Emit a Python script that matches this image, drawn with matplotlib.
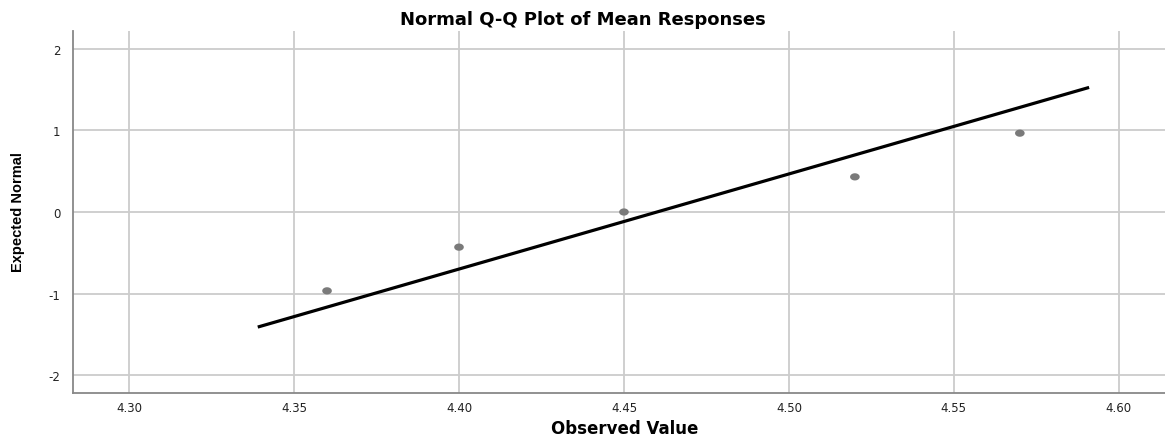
import numpy as np
import matplotlib
matplotlib.use('Agg')
import matplotlib.pyplot as plt
from matplotlib.path import Path

# observed means and their expected normal scores
observed = [4.36, 4.40, 4.45, 4.52, 4.57]
expected = [-0.967, -0.431, 0.0, 0.431, 0.967]
line_x = [4.339, 4.591]
x_ticks = [4.30, 4.35, 4.40, 4.45, 4.50, 4.55, 4.60]
y_ticks = [-2, -1, 0, 1, 2]

mean = np.mean(observed)
sd = np.std(observed, ddof=1)
line_y = [(x - mean) / sd for x in line_x]

plt.rcParams['font.family'] = ['DejaVu Sans']
plt.rcParams['axes.unicode_minus'] = False

fig = plt.figure(figsize=(11.65, 4.39), dpi=100)
ax = fig.add_axes([73 / 1165, 1 - 394 / 439, (1165 - 73) / 1165, (394 - 32) / 439])

ax.set_xlim(4.283, 4.614)
ax.set_ylim(-2.22, 2.22)
ax.set_xticks(x_ticks)
ax.set_xticklabels([f'{t:.2f}' for t in x_ticks])
ax.set_yticks(y_ticks)
ax.grid(True, color='#cccccc', linewidth=1.3)
ax.set_axisbelow(True)

ax.plot(line_x, line_y, color='black', linewidth=2.3, solid_capstyle='butt', zorder=3)

# slightly flattened dot, like the SPSS output
t = np.linspace(0, 2 * np.pi, 40)
ellipse = Path(np.column_stack([np.cos(t), 0.75 * np.sin(t)]), closed=True)
ax.scatter(observed, expected, s=48, marker=ellipse, color='#7a7a7a', edgecolors='none', zorder=4)

for side in ['top', 'right']:
    ax.spines[side].set_visible(False)
for side in ['left', 'bottom']:
    ax.spines[side].set_color('#888888')
    ax.spines[side].set_linewidth(1.3)
ax.tick_params(length=0, labelsize=8.5, colors='#222222')
ax.tick_params(axis='x', pad=6)
ax.tick_params(axis='y', pad=9)

fig.text(0.536, 1 - 429 / 439, 'Observed Value', ha='center', va='center',
         fontsize=12, fontweight='bold')
fig.text(18 / 1165, 1 - 212 / 439, 'Expected Normal', ha='center', va='center', rotation=90,
         fontsize=10.5, fontweight='bold', family=['Liberation Sans', 'DejaVu Sans'])
fig.text(0.5, 1 - 20 / 439, 'Normal Q-Q Plot of Mean Responses', ha='center', va='center',
         fontsize=13, fontweight='bold')

fig.savefig('out.png', dpi=100)
